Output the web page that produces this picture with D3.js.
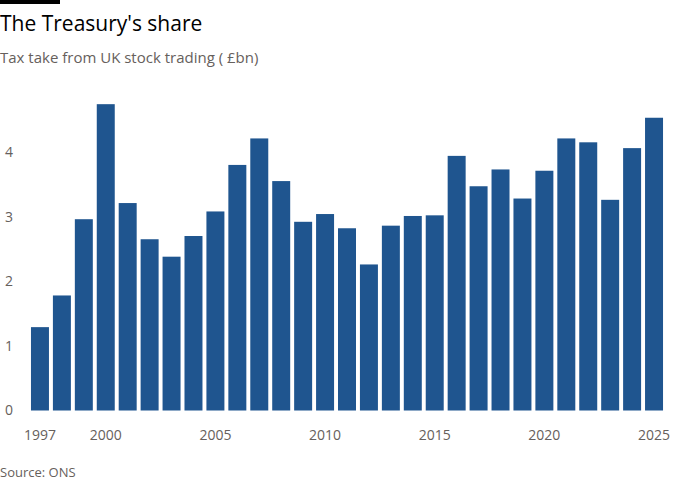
<!DOCTYPE html>
<html>
<head>
<meta charset="utf-8">
<script src="https://cdn.jsdelivr.net/npm/d3@7"></script>
<style>
  body { margin: 0; background: #fff; }
  svg { display: block; font-family: "Open Sans", sans-serif; }
</style>
</head>
<body>
<div id="chart"></div>
<script>
// datos
const years = d3.range(1997, 2026)
const values = [1.29, 1.78, 2.96, 4.74, 3.21, 2.65, 2.38, 2.70, 3.08, 3.80,
                4.21, 3.55, 2.92, 3.04, 2.82, 2.26, 2.86, 3.01, 3.02, 3.94,
                3.47, 3.73, 3.28, 3.71, 4.21, 4.15, 3.26, 4.06, 4.53]
const xTicks = [1997, 2000, 2005, 2010, 2015, 2020, 2025]
const yTicks = [0, 1, 2, 3, 4]

const width = 700
const height = 500

const svg = d3.select("#chart").append("svg").attr("width", width).attr("height", height)

// cabecera
svg.append("rect").attr("x", 0).attr("y", 0).attr("width", 60).attr("height", 4).attr("fill", "#000")

svg.append("text")
    .attr("x", 0).attr("y", 31)
    .style("font-size", "21px")
    .attr("fill", "#000")
    .text("The Treasury's share")

svg.append("text")
    .attr("x", 0).attr("y", 63)
    .style("font-size", "15px")
    .attr("fill", "#66605c")
    .text("Tax take from UK stock trading ( £bn)")

// escalas
const x = d3.scaleBand().domain(years).range([29, 665]).paddingInner(0.18).paddingOuter(0.09)
const y = d3.scaleLinear().domain([0, 4]).range([410.5, 152])

// eje y
svg.append("g").selectAll("text").data(yTicks)
    .join("text")
        .attr("x", 5)
        .attr("y", d => y(d))
        .attr("dy", "0.35em")
        .style("font-size", "14px")
        .attr("fill", "#66605c")
        .text(d => d)

// barras
svg.append("g").selectAll("rect").data(values)
    .join("rect")
        .attr("x", (d, i) => x(years[i]))
        .attr("y", d => y(d))
        .attr("width", x.bandwidth())
        .attr("height", d => y(0) - y(d))
        .attr("fill", "#1f558f")

// eje x
svg.append("g").selectAll("text").data(xTicks)
    .join("text")
        .attr("x", d => x(d) + x.bandwidth() / 2)
        .attr("y", 440)
        .attr("text-anchor", "middle")
        .style("font-size", "14px")
        .attr("fill", "#66605c")
        .text(d => d)

svg.append("text")
    .attr("x", 0).attr("y", 477)
    .style("font-size", "13px")
    .attr("fill", "#66605c")
    .text("Source: ONS")
</script>
</body>
</html>
